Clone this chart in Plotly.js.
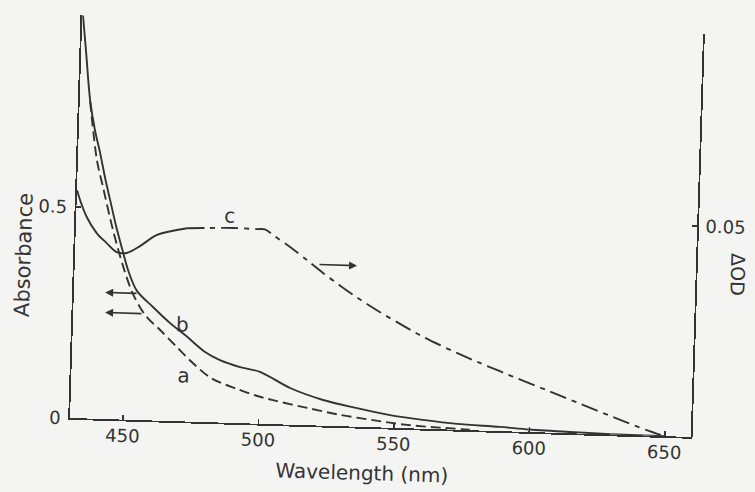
<!DOCTYPE html>
<html>
<head>
<meta charset="utf-8">
<script src="https://cdn.plot.ly/plotly-3.0.1.min.js"></script>
<style>
  html, body { margin: 0; padding: 0; background: #f4f4f2; overflow: hidden; }
  /* the printed figure sits slightly turned on the page */
  #chart { width: 755px; height: 492px; transform: rotate(1.75deg); transform-origin: 70px 418px; }
</style>
</head>
<body>
<div id="chart"></div>
<script>
// Spectrum a (dashed): absorbance vs wavelength (nm)
const wavelengthA = [434.3, 437.5, 440.0, 444.2, 448.5, 452.3, 457.3, 462.7, 468.7, 474.1, 482.0, 491.7, 500.3, 505.1, 517.8, 530.0, 542.2, 554.8, 566.9, 578.0];
const absorbanceA = [0.752, 0.612, 0.550, 0.448, 0.360, 0.298, 0.247, 0.215, 0.178, 0.145, 0.105, 0.081, 0.064, 0.057, 0.041, 0.027, 0.017, 0.008, 0.004, 0.001];

// Spectrum b (solid): absorbance vs wavelength (nm)
const wavelengthB = [430.7, 432.2, 434.3, 436.4, 438.5, 440.7, 442.8, 445.2, 447.7, 450.3, 453.7, 459.8, 466.3, 472.3, 479.5, 485.1, 492.6, 500.0, 511.3, 523.6, 536.2, 548.4, 560.7, 573.2, 589.1, 600.0, 615.0, 630.0, 650.0];
const absorbanceB = [0.955, 0.872, 0.754, 0.684, 0.632, 0.571, 0.519, 0.460, 0.406, 0.353, 0.306, 0.269, 0.232, 0.203, 0.166, 0.148, 0.133, 0.123, 0.087, 0.061, 0.044, 0.030, 0.021, 0.014, 0.010, 0.006, 0.003, 0.001, 0.000];

// Difference spectrum c (right axis, ΔOD)
const wavelengthC = [430.5, 431.7, 434.3, 438.2, 442.0, 445.8, 449.5, 454.3, 460.5, 471.5, 478.8, 488.4, 497.3, 500.2, 503.3, 509.7, 516.1, 522.1, 528.6, 535.0, 543.6, 553.7, 559.7, 572.4, 581.0, 588.5, 593.3, 606.1, 618.3, 630.6, 643.3, 650.0];
const deltaODC = [0.0540, 0.0517, 0.0478, 0.0440, 0.0417, 0.0396, 0.0395, 0.0412, 0.0440, 0.0458, 0.0460, 0.0462, 0.0461, 0.0461, 0.0448, 0.0421, 0.0391, 0.0362, 0.0333, 0.0306, 0.0273, 0.0238, 0.0218, 0.0182, 0.0160, 0.0142, 0.0130, 0.0100, 0.0071, 0.0042, 0.0013, 0.0000];
// c is drawn solid up to this wavelength, dash-dot beyond it
const cSolidUntil = 471.5;

// Axis ticks
const xTicks = [450, 500, 550, 600, 650];
const yTicks = [0, 0.5];
const yTickText = ['0', '0.5'];
const y2Ticks = [0.05];
const y2TickText = ['0.05'];

const ink = '#333333';
const cSplit = wavelengthC.findIndex(w => w >= cSolidUntil);

const curve = (dash) => ({ color: ink, width: 1.9, dash: dash, shape: 'spline', smoothing: 0.9 });

const traces = [
  { x: wavelengthA, y: absorbanceA, mode: 'lines', line: curve('10px,5px'), hoverinfo: 'skip' },
  { x: wavelengthB, y: absorbanceB, mode: 'lines', line: curve('solid'), hoverinfo: 'skip' },
  { x: wavelengthC.slice(0, cSplit + 1), y: deltaODC.slice(0, cSplit + 1), yaxis: 'y2', mode: 'lines',
    line: curve('solid'), hoverinfo: 'skip' },
  { x: wavelengthC.slice(cSplit), y: deltaODC.slice(cSplit), yaxis: 'y2', mode: 'lines',
    line: curve('17px,6px,5px,6px'), hoverinfo: 'skip' }
];

const axisCommon = {
  showline: true, linecolor: ink, linewidth: 1.8,
  ticks: 'inside', ticklen: 5, tickwidth: 1.6, tickcolor: ink,
  showgrid: false, zeroline: false, tickfont: { size: 18, color: ink }
};

const arrow = (x, y, ax) => ({
  x: x, y: y, ax: ax, ay: y, xref: 'x', yref: 'y', axref: 'x', ayref: 'y',
  text: '', showarrow: true, arrowhead: 2, arrowsize: 1, arrowwidth: 1.6, arrowcolor: ink
});

const layout = {
  width: 755, height: 492,
  margin: { l: 70, r: 64, t: 15, b: 74 },
  paper_bgcolor: '#f4f4f2', plot_bgcolor: '#f4f4f2',
  font: { family: 'DejaVu Sans, sans-serif', size: 18, color: ink },
  showlegend: false,
  xaxis: Object.assign({}, axisCommon, { range: [430.45, 659.6], tickvals: xTicks, ticklabelstandoff: -1 }),
  yaxis: Object.assign({}, axisCommon, { range: [0, 0.955], tickvals: yTicks, ticktext: yTickText, ticklabelstandoff: 4 }),
  yaxis2: Object.assign({}, axisCommon, {
    range: [0, 0.0955], overlaying: 'y', side: 'right',
    tickvals: y2Ticks, ticktext: y2TickText, ticklabelstandoff: 3
  }),
  annotations: [
    { text: 'Wavelength (nm)', xref: 'paper', yref: 'paper', x: 0.4728, y: -0.114,
      xanchor: 'center', yanchor: 'middle', showarrow: false, font: { size: 20 } },
    { text: 'Absorbance', xref: 'paper', yref: 'paper', x: -0.082, y: 0.401, textangle: -90,
      xanchor: 'center', yanchor: 'middle', showarrow: false, font: { size: 21 } },
    { text: 'ΔOD', xref: 'paper', yref: 'paper', x: 1.0686, y: 0.4055, textangle: 90,
      xanchor: 'center', yanchor: 'middle', showarrow: false, font: { size: 19 } },
    { text: 'a', xref: 'x', yref: 'y', x: 471.6, y: 0.108, showarrow: false, font: { size: 20 } },
    { text: 'b', xref: 'x', yref: 'y', x: 470.7, y: 0.231, showarrow: false, font: { size: 20 } },
    { text: 'c', xref: 'x', yref: 'y', x: 487.2, y: 0.490, showarrow: false, font: { size: 20 } },
    arrow(442.0, 0.300, 454.1),
    arrow(442.2, 0.2525, 456.2),
    arrow(534.6, 0.3815, 520.2)
  ]
};

Plotly.newPlot('chart', traces, layout, { displayModeBar: false, staticPlot: true });
</script>
</body>
</html>
